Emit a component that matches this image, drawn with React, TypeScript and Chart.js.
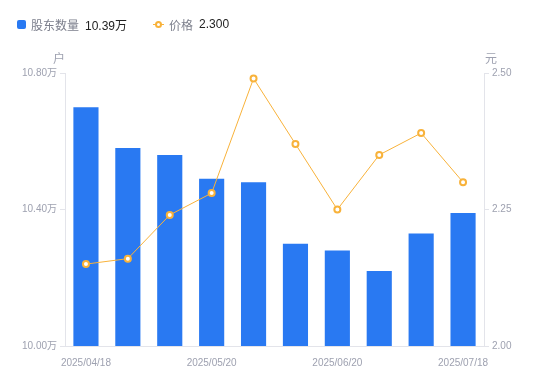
import React, { useEffect, useRef } from "react";
import { Chart, registerables } from "chart.js";

Chart.register(...registerables);

const dates = [
  "2025/04/18", "2025/04/30", "2025/05/10", "2025/05/20", "2025/05/31",
  "2025/06/10", "2025/06/20", "2025/06/30", "2025/07/10", "2025/07/18",
];
const holders = [10.70, 10.58, 10.56, 10.49, 10.48, 10.30, 10.28, 10.22, 10.33, 10.39];
const prices = [2.15, 2.16, 2.24, 2.28, 2.49, 2.37, 2.25, 2.35, 2.39, 2.30];
const holderTicks = { min: 10.0, max: 10.8, step: 0.4 };
const priceTicks = { min: 2.0, max: 2.5, step: 0.25 };

const BLUE = "#2979f2";
const ORANGE = "#f8b23a";
const TICK = "#9ea1b0";
const AXIS = "#e3e4ea";
const FONT = "'Liberation Sans', 'Noto Sans CJK SC', sans-serif";

export default function App() {
  const ref = useRef<HTMLCanvasElement>(null);
  useEffect(() => {
    document.body.style.margin = "0";
    const chart = new Chart(ref.current!, {
      data: {
        labels: dates,
        datasets: [
          {
            type: "line",
            label: "价格",
            data: prices,
            yAxisID: "y1",
            borderColor: ORANGE,
            borderWidth: 1,
            pointRadius: 3,
            pointBorderWidth: 2,
            pointBackgroundColor: "#ffffff",
            pointBorderColor: ORANGE,
            tension: 0,
            order: 0,
          },
          {
            type: "bar",
            label: "股东数量",
            data: holders,
            yAxisID: "y",
            backgroundColor: BLUE,
            categoryPercentage: 0.6,
            barPercentage: 1,
            order: 1,
          },
        ],
      },
      options: {
        animation: false,
        responsive: false,
        maintainAspectRatio: false,
        layout: { padding: { top: 73, left: 0, right: 0, bottom: 0 } },
        plugins: { legend: { display: false }, tooltip: { enabled: false } },
        scales: {
          x: {
            offset: true,
            grid: { display: false },
            border: { display: true, color: AXIS },
            ticks: {
              autoSkip: false,
              maxRotation: 0,
              padding: 3,
              color: TICK,
              font: { size: 10, family: FONT },
              callback: (_v: any, i: number) => (i % 3 === 0 ? dates[i] : ""),
            },
            afterFit: (s: any) => { s.height = 35; },
          },
          y: {
            position: "left",
            min: holderTicks.min,
            max: holderTicks.max,
            grid: { drawOnChartArea: false, drawTicks: true, tickLength: 5, color: AXIS },
            border: { display: true, color: AXIS },
            ticks: {
              stepSize: holderTicks.step,
              padding: 3,
              color: TICK,
              font: { size: 10, family: FONT },
              callback: (v: any) => Number(v).toFixed(2) + "万",
            },
            afterFit: (s: any) => { s.width = 65; },
          },
          y1: {
            position: "right",
            min: priceTicks.min,
            max: priceTicks.max,
            grid: { drawOnChartArea: false, drawTicks: true, tickLength: 5, color: AXIS },
            border: { display: true, color: AXIS },
            ticks: {
              stepSize: priceTicks.step,
              padding: 3,
              color: TICK,
              font: { size: 10, family: FONT },
              callback: (v: any) => Number(v).toFixed(2),
            },
            afterFit: (s: any) => { s.width = 66; },
          },
        },
      },
    } as any);
    return () => chart.destroy();
  }, []);

  const label: React.CSSProperties = { color: "#7c7f8c", fontSize: 12 };
  const value: React.CSSProperties = { color: "#222", fontSize: 12 };
  return (
    <div style={{ position: "relative", width: 550, height: 381, fontFamily: FONT }}>
      <canvas ref={ref} width={550} height={381} style={{ position: "absolute", left: 0, top: 0 }} />
      <div style={{ position: "absolute", left: 17, top: 16, height: 16, display: "flex", alignItems: "center", whiteSpace: "nowrap" }}>
        <span style={{ width: 9, height: 9, background: BLUE, borderRadius: 2, display: "inline-block", marginRight: 5 }} />
        <span style={label}>股东数量</span>
        <span style={{ ...value, marginLeft: 6 }}>{holders[holders.length - 1].toFixed(2)}万</span>
        <span style={{ position: "relative", width: 11, height: 9, display: "inline-block", marginLeft: 26, marginRight: 5 }}>
          <span style={{ position: "absolute", left: 0, top: 4, width: 11, height: 1, background: ORANGE }} />
          <span style={{ position: "absolute", left: 2, top: 1, width: 3, height: 3, border: `2px solid ${ORANGE}`, borderRadius: "50%", background: "#fff" }} />
        </span>
        <span style={label}>价格</span>
        <span style={{ ...value, marginLeft: 6 }}>{prices[prices.length - 1].toFixed(3)}</span>
      </div>
      <div style={{ position: "absolute", left: 53, top: 49, color: TICK, fontSize: 12 }}>户</div>
      <div style={{ position: "absolute", left: 485, top: 49, color: TICK, fontSize: 12 }}>元</div>
    </div>
  );
}
